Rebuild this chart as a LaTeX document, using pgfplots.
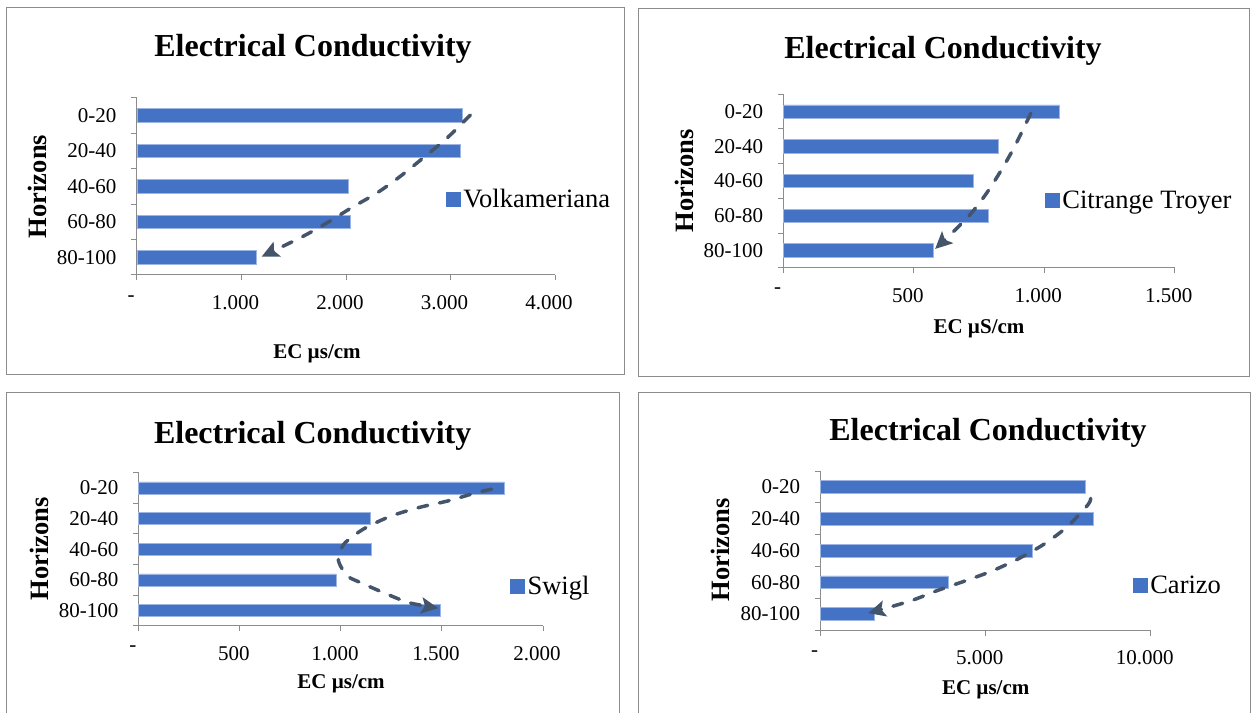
\documentclass[border=0pt]{standalone}
\usepackage{fontspec}
\setmainfont{Liberation Serif}
\usepackage{pgfplots}
\pgfplotsset{compat=1.18}
\usetikzlibrary{arrows.meta}

\definecolor{barblue}{HTML}{4472C4}
\definecolor{baredge}{HTML}{9DB5E2}
\definecolor{arrowslate}{HTML}{44546A}
\definecolor{axisgray}{HTML}{8C8C8C}
\definecolor{framegray}{HTML}{8C8C8C}

\newcommand\ticksize{\fontsize{21}{25}\selectfont}
\newcommand\titlesize{\fontsize{32}{38}\selectfont\bfseries}
\newcommand\xlabsize{\fontsize{21}{25}\selectfont\bfseries}
\newcommand\ylabsize{\fontsize{26.5}{31}\selectfont\bfseries}
\newcommand\legsize{\fontsize{26.5}{31}\selectfont}

\pgfplotsset{
  ecpanel/.style={
    scale only axis, anchor=south west, clip=false,
    xmin=0, ymin=-0.5, ymax=4.5,
    scaled x ticks=false,
    axis x line*=bottom, axis y line*=left,
    axis line style={draw=axisgray, line width=1pt},
    tick align=outside, major tick length=5.5pt,
    every tick/.style={draw=axisgray, line width=1pt},
    ytick={-0.5,0.5,...,4.5},
    y tick label as interval,
    yticklabels={80-100,60-80,40-60,20-40,0-20},
    yticklabel style={font=\ticksize, xshift=-11.5pt},
    xticklabel style={font=\ticksize, xshift=-6pt, yshift=-11.5pt},
    /pgf/number format/assume math mode=true,
    every axis title shift=0pt,
    title style={font=\titlesize, anchor=base},
    xlabel style={font=\xlabsize, anchor=base},
    ylabel style={font=\ylabsize, anchor=base},
    legend style={draw=none, fill=none, anchor=west, font=\legsize,
      inner sep=0pt, outer sep=0pt, nodes={inner sep=2.5pt}},
  },
  ecbar/.style={xbar, fill=barblue, draw=baredge, line width=0.6pt, bar width=#1,
    legend image code/.code={\fill[barblue] (0pt,-7pt) rectangle (14pt,7pt);}},
  ecarrow/.style={arrowslate, line width=3.5pt, dash pattern=on 10pt off 12pt,
    line cap=round, smooth, forget plot,
    -{Stealth[length=17pt,width=16pt,inset=3.5pt]}},
}

\begin{document}
\begin{tikzpicture}[x=1pt,y=1pt]
\useasboundingbox (0,0) rectangle (1255,712);
\clip (0,0) rectangle (1255,712);

% chart frames
\draw[framegray, line width=1pt] (6,704) rectangle (624,337);
\draw[framegray, line width=1pt] (638,703) rectangle (1249,335);
\draw[framegray, line width=1pt] (6,319) rectangle (619.5,-10);
\draw[framegray, line width=1pt] (638,319.3) rectangle (1250.5,-10);

% Volkameriana
\begin{axis}[ecpanel, at={(137pt,437pt)}, width=418pt, height=177.3pt,
  xmax=4000, xtick={0,1000,2000,3000,4000},
  xticklabels={{-\hspace{9pt}},1.000,2.000,3.000,4.000},
  title={Electrical Conductivity}, title style={at={(axis description cs:0.4211,1.2312)}},
  xlabel={EC µs/cm}, xlabel style={at={(axis description cs:0.4306,-0.4698)}},
  ylabel={Horizons}, ylabel style={at={(axis description cs:-0.2177,0.4992)}},
  legend style={at={(axis description cs:0.7400,0.4287)}}]
\addplot[ecbar=13.3pt] coordinates {(1145,0) (2045,1) (2025,2) (3090,3) (3110,4)};
\addlegendentry{Volkameriana}
\addplot[ecarrow] coordinates {(3190,4.01) (2964,3.355) (2746,2.82) (2523,2.29)
  (2300,1.82) (2060,1.41) (1821,0.975) (1582,0.58) (1193,0.02)};
\end{axis}

% Citrange Troyer
\begin{axis}[ecpanel, at={(783.6pt,444.3pt)}, width=391.1pt, height=173.4pt,
  xmax=1500, xtick={0,500,1000,1500},
  xticklabels={{-\hspace{9pt}},500,1.000,1.500},
  title={Electrical Conductivity}, title style={at={(axis description cs:0.4076,1.2036)}},
  xlabel={EC µS/cm}, xlabel style={at={(axis description cs:0.4996,-0.3783)}},
  ylabel={Horizons}, ylabel style={at={(axis description cs:-0.2304,0.5012)}},
  legend style={at={(axis description cs:0.6690,0.3904)}}]
\addplot[ecbar=13.3pt] coordinates {(574,0) (785,1) (727,2) (822,3) (1058,4)};
\addlegendentry{Citrange Troyer}
\addplot[ecarrow] coordinates {(948,3.95) (887,3.01) (833,2.29) (772,1.58)
  (702,0.92) (581,0.04)};
\end{axis}

% Swigl
\begin{axis}[ecpanel, at={(138.8pt,86.3pt)}, width=404.2pt, height=153pt,
  xmax=2000, xtick={0,500,1000,1500,2000},
  xticklabels={{-\hspace{9pt}},500,1.000,1.500,2.000},
  title={Electrical Conductivity}, title style={at={(axis description cs:0.4302,1.1922)}},
  xlabel={EC µs/cm}, xlabel style={at={(axis description cs:0.5003,-0.4092)}},
  ylabel={Horizons}, ylabel style={at={(axis description cs:-0.2246,0.5013)}},
  legend style={at={(axis description cs:0.9195,0.2595)}}]
\addplot[ecbar=12pt] coordinates {(1493,0) (977,1) (1148,2) (1144,3) (1807,4)};
\addlegendentry{Swigl}
\addplot[ecarrow] coordinates {(1746,3.96) (1672,3.85) (1531,3.58) (1391,3.37)
  (1251,3.09) (1128,2.72) (1061,2.43) (1012,2.14) (987,1.70) (1004,1.38)
  (1037,1.10) (1086,0.94) (1144,0.77) (1276,0.40) (1350,0.23) (1482,0.07)};
\end{axis}

% Carizo
\begin{axis}[ecpanel, at={(820.7pt,82pt)}, width=330pt, height=159pt,
  xmax=10000, xtick={0,5000,10000},
  xticklabels={{-\hspace{9pt}},5.000,10.000},
  title={Electrical Conductivity}, title style={at={(axis description cs:0.5070,1.1887)}},
  xlabel={EC µs/cm}, xlabel style={at={(axis description cs:0.5,-0.4044)}},
  ylabel={Horizons}, ylabel style={at={(axis description cs:-0.2764,0.5031)}},
  legend style={at={(axis description cs:0.9470,0.2811)}}]
\addplot[ecbar=12.7pt] coordinates {(1620,0) (3870,1) (6400,2) (8270,3) (8030,4)};
\addlegendentry{Carizo}
\addplot[ecarrow] coordinates {(8182,3.64) (8091,3.43) (7473,2.75) (6767,2.20)
  (6009,1.75) (5200,1.36) (4394,1.05) (3533,0.74) (2706,0.41) (1442,0.03)};
\end{axis}
\end{tikzpicture}
\end{document}
